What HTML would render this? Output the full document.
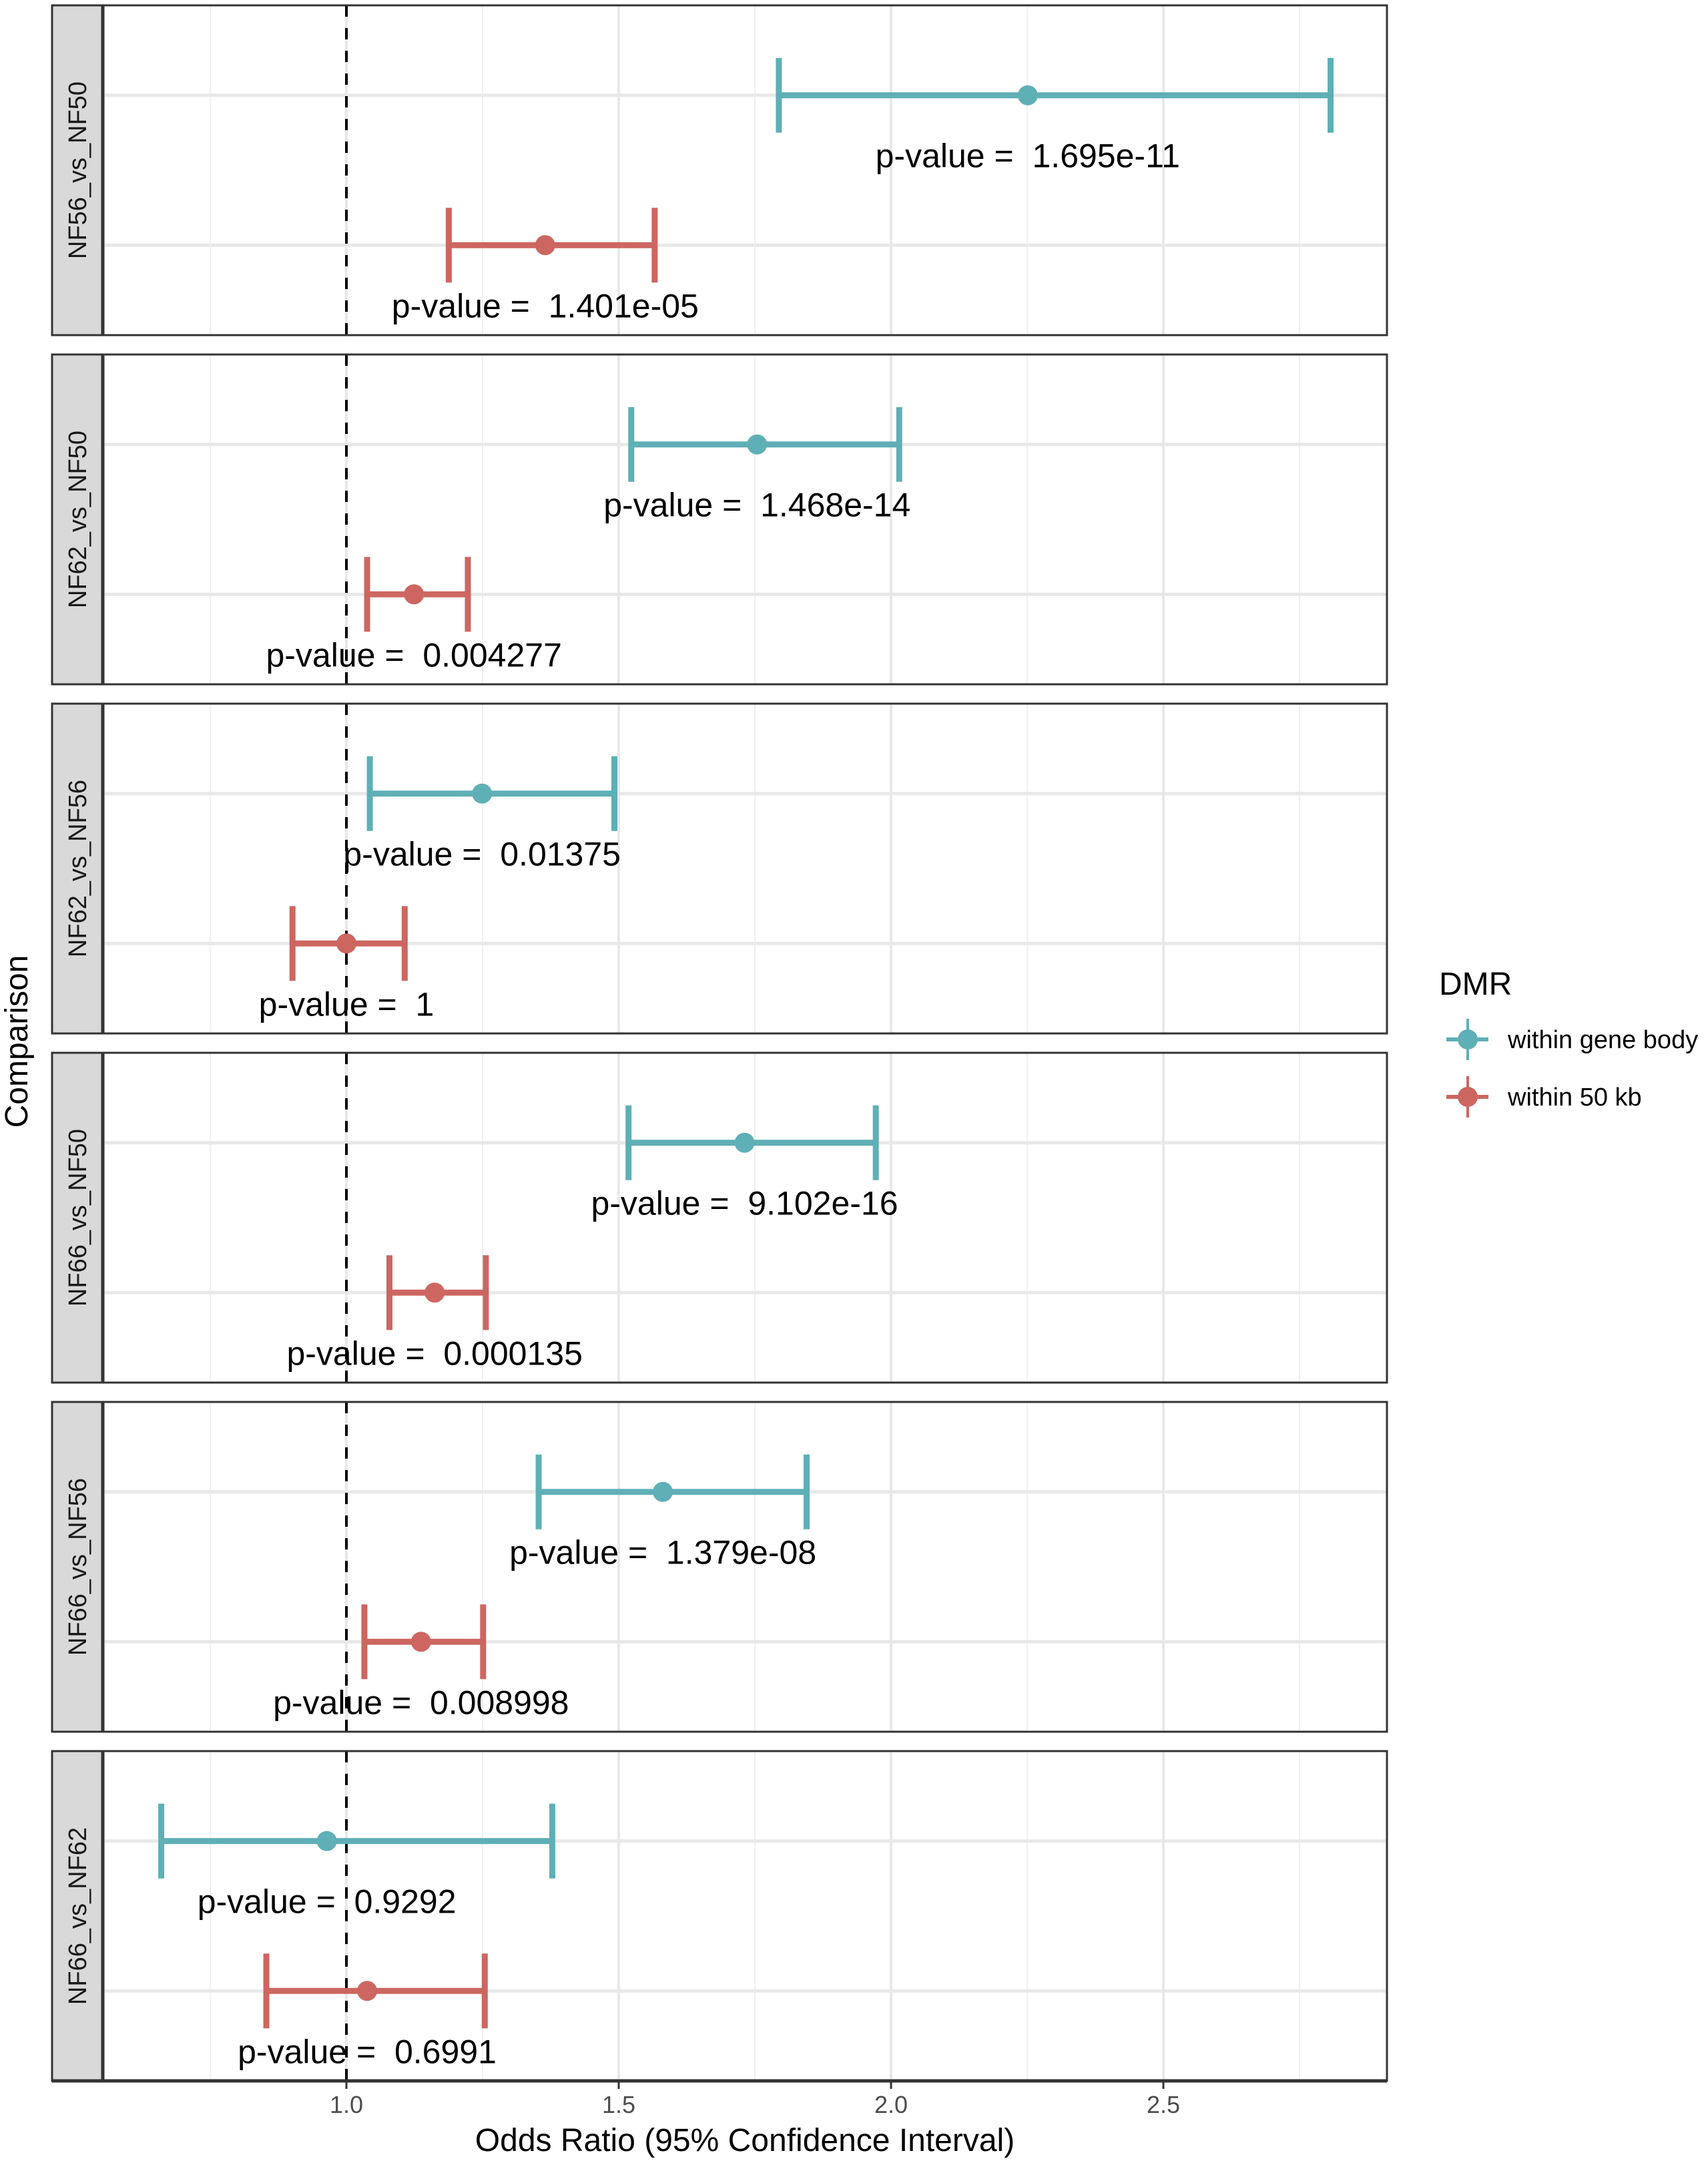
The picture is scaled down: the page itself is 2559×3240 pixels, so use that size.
<!DOCTYPE html>
<html><head><meta charset="utf-8"><style>
html,body{margin:0;padding:0;background:#fff}
svg{display:block;font-family:"Liberation Sans",sans-serif}
.pv{white-space:pre}
</style></head><body>
<svg id="chart" width="2559" height="3240" viewBox="0 0 2559 3240" xmlns="http://www.w3.org/2000/svg"></svg>
<script>
const comparisons = ["NF56_vs_NF50","NF62_vs_NF50","NF62_vs_NF56","NF66_vs_NF50","NF66_vs_NF56","NF66_vs_NF62"];
const geneLo  = [1.794,1.523,1.043,1.518,1.353,0.660];
const geneEst = [2.251,1.754,1.249,1.731,1.581,0.964];
const geneHi  = [2.807,2.015,1.492,1.972,1.845,1.378];
const geneP   = ["1.695e-11","1.468e-14","0.01375","9.102e-16","1.379e-08","0.9292"];
const kbLo  = [1.188,1.038,0.901,1.079,1.033,0.853];
const kbEst = [1.365,1.124,1.000,1.162,1.137,1.038];
const kbHi  = [1.566,1.223,1.107,1.256,1.251,1.254];
const kbP   = ["1.401e-05","0.004277","1","0.000135","0.008998","0.6991"];
const xTicks = [1.0,1.5,2.0,2.5];
const xTickLabels = ["1.0","1.5","2.0","2.5"];
const xMinor = [0.75,1.25,1.75,2.25,2.75];

const NS="http://www.w3.org/2000/svg";
const svg=document.getElementById('chart');
function el(tag,attrs,parent){const e=document.createElementNS(NS,tag);for(const k in attrs)e.setAttribute(k,attrs[k]);(parent||svg).appendChild(e);return e;}
const px0=154, px1=2078, pTop0=8, pH=494, pitch=523;
function x(v){return 519+(v-1)*816;}
const teal="#5fafb6", red="#cd6660";

comparisons.forEach((c,i)=>{
  const top=pTop0+i*pitch;
  const g=el('g',{});
  
  
  el('rect',{x:px0,y:top,width:px1-px0,height:pH,fill:'#fff'},g);
  xMinor.forEach(v=>el('line',{x1:x(v),x2:x(v),y1:top,y2:top+pH,stroke:'#f0f0f0','stroke-width':2},g));
  xTicks.forEach(v=>el('line',{x1:x(v),x2:x(v),y1:top,y2:top+pH,stroke:'#e8e8e8','stroke-width':4},g));
  const y1=top+pH*0.6/2.2, y2=top+pH*1.6/2.2;
  [y1,y2].forEach(y=>el('line',{x1:px0,x2:px1,y1:y,y2:y,stroke:'#e8e8e8','stroke-width':5},g));
  el('line',{x1:x(1),x2:x(1),y1:top,y2:top+pH,stroke:'#000','stroke-width':4,'stroke-dasharray':'17 17'},g);
  const rows=[[y1,geneLo[i],geneEst[i],geneHi[i],geneP[i],teal,'gene-body'],[y2,kbLo[i],kbEst[i],kbHi[i],kbP[i],red,'50kb']];
  rows.forEach(r=>{
    const [y,lo,est,hi,p,col,nm]=r;
    const bg=el('g',{},g);
    
    
    el('line',{x1:x(lo),x2:x(hi),y1:y,y2:y,stroke:col,'stroke-width':9},bg);
    el('line',{x1:x(lo),x2:x(lo),y1:y-56,y2:y+56,stroke:col,'stroke-width':9},bg);
    el('line',{x1:x(hi),x2:x(hi),y1:y-56,y2:y+56,stroke:col,'stroke-width':9},bg);
    el('circle',{cx:x(est),cy:y,r:15,fill:col},bg);
    const t=el('text',{x:x(est),y:y+108,'text-anchor':'middle','font-size':50,fill:'#000','class':'pv'},g);
    
    
    t.textContent='p-value =  '+p;
  });
  el('rect',{x:px0,y:top,width:px1-px0,height:pH,fill:'none',stroke:'#333','stroke-width':3},g);
  const s=el('rect',{x:78,y:top,width:px0-78,height:pH,fill:'#d9d9d9',stroke:'#333','stroke-width':3},g);
  
  
  el('line',{x1:px0,x2:px0,y1:top,y2:top+pH,stroke:'#333','stroke-width':5},g);
  const st=el('text',{x:0,y:0,transform:`translate(129,${top+pH/2}) rotate(-90)`,'text-anchor':'middle','font-size':38,fill:'#1a1a1a'},g);
  
  
  st.textContent=c;
});
const bottom=pTop0+5*pitch+pH;
el('line',{x1:px0-76,x2:px1,y1:bottom,y2:bottom,stroke:'#333','stroke-width':5});
xTicks.forEach((v,i)=>{
  el('line',{x1:x(v),x2:x(v),y1:bottom,y2:bottom+12,stroke:'#333','stroke-width':3});
  const t=el('text',{x:x(v),y:bottom+48,'text-anchor':'middle','font-size':36,fill:'#4d4d4d'});
  
  
  t.textContent=xTickLabels[i];
});
let t=el('text',{x:(px0+px1)/2,y:3222,'text-anchor':'middle','font-size':48,fill:'#000'});


t.textContent='Odds Ratio (95% Confidence Interval)';
t=el('text',{x:0,y:0,transform:'translate(41,1560) rotate(-90)','text-anchor':'middle','font-size':48,fill:'#000'});


t.textContent='Comparison';
t=el('text',{x:2156,y:1490,'font-size':48,fill:'#000'});


t.textContent='DMR';
[[1557,teal,'within gene body'],[1643,red,'within 50 kb']].forEach(e=>{
  const [y,col,lab]=e;
  const g=el('g',{});
  
  
  el('line',{x1:2167,x2:2230,y1:y,y2:y,stroke:col,'stroke-width':6},g);
  el('line',{x1:2199,x2:2199,y1:y-31,y2:y+31,stroke:col,'stroke-width':4},g);
  el('circle',{cx:2199,cy:y,r:15,fill:col},g);
  const tt=el('text',{x:2259,y:y+13,'font-size':38,fill:'#000'},g);
  tt.textContent=lab;
});
</script>
</body></html>
